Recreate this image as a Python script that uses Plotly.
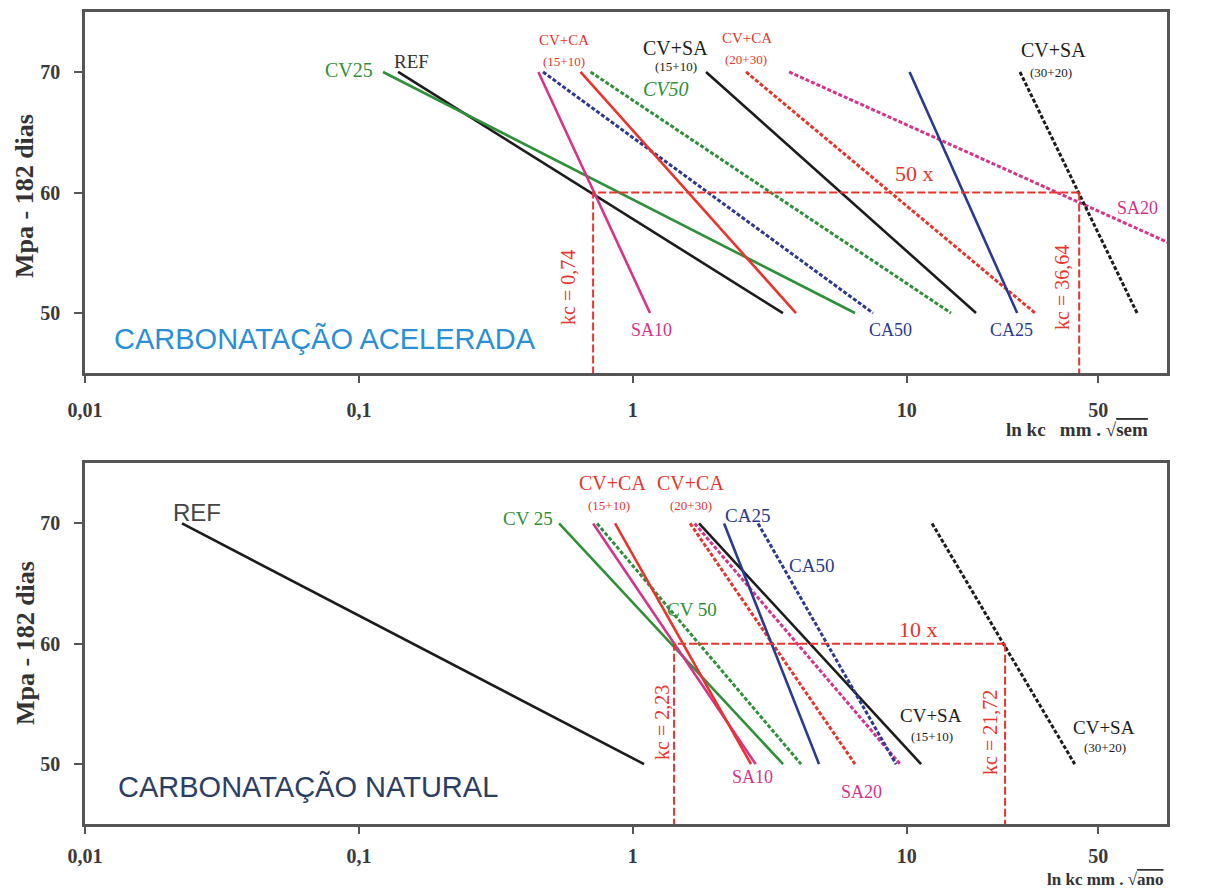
import plotly.graph_objects as go

W, H = 1211, 888

# ---------------- data ----------------
# Carbonatação acelerada (top): kc at 70 MPa and at 50 MPa
acc_names = ["REF", "CV25", "SA10", "CA50", "CV+CA (15+10)", "CV50", "CV+SA (15+10)",
             "CV+CA (20+30)", "SA20", "CA25", "CV+SA (30+20)"]
acc_kc70 = [0.139, 0.1225, 0.452, 0.470, 0.644, 0.701, 1.85, 2.59, 3.72, 10.24, 25.9]
acc_kc50 = [3.53, 6.47, 1.155, 7.53, 3.94, 14.5, 17.9, 29.4, 336.0, 25.3, 69.3]
acc_ref_kc = [0.716, 42.6]  # kc = 0,74 ; kc = 36,64 (as drawn)

# Carbonatação natural (bottom)
nat_names = ["REF", "CV 25", "SA10", "CV 50", "CV+CA (15+10)", "CV+CA (20+30)", "SA20",
             "CV+SA (15+10)", "CA25", "CA50", "CV+SA (30+20)"]
nat_kc70 = [0.0226, 0.538, 0.716, 0.740, 0.861, 1.618, 1.681, 1.745, 2.153, 2.865, 12.37]
nat_kc50 = [1.099, 3.535, 2.808, 4.113, 2.70, 6.474, 9.45, 11.28, 4.784, 9.14, 41.05]
nat_ref_kc = [1.414, 22.85]  # kc = 2,23 ; kc = 21,72 (as drawn)

mpa_levels = [70, 50]
ref_mpa = 60
x_tickvals = [0.01, 0.1, 1, 10, 50]
x_ticktext = ["0,01", "0,1", "1", "10", "50"]
y_tickvals = [50, 60, 70]

# ---------------- styles ----------------
BLACK = "#1c1c1c"
GREEN = "#2f8f3a"
RED = "#e8342c"
MAG = "#d6338a"
BLUE = "#2b3990"
DOT = "4px,2px"

acc_style = {
    "REF": (BLACK, "solid"), "CV25": (GREEN, "solid"), "SA10": (MAG, "solid"),
    "CA50": (BLUE, DOT), "CV+CA (15+10)": (RED, "solid"), "CV50": (GREEN, DOT),
    "CV+SA (15+10)": (BLACK, "solid"), "CV+CA (20+30)": (RED, DOT), "SA20": (MAG, DOT),
    "CA25": (BLUE, "solid"), "CV+SA (30+20)": (BLACK, DOT),
}
nat_style = {
    "REF": (BLACK, "solid"), "CV 25": (GREEN, "solid"), "SA10": (MAG, "solid"),
    "CV 50": (GREEN, DOT), "CV+CA (15+10)": (RED, "solid"), "CV+CA (20+30)": (RED, DOT),
    "SA20": (MAG, DOT), "CV+SA (15+10)": (BLACK, "solid"), "CA25": (BLUE, "solid"),
    "CA50": (BLUE, DOT), "CV+SA (30+20)": (BLACK, DOT),
}

fig = go.Figure()

def add_lines(names, k70, k50, style, xa, ya):
    for n, a, b in zip(names, k70, k50):
        c, d = style[n]
        fig.add_trace(go.Scatter(x=[a, b], y=mpa_levels, mode="lines", xaxis=xa, yaxis=ya,
                                 line=dict(color=c, width=2.6 if d == "solid" else 3, dash=d),
                                 showlegend=False, hoverinfo="skip", name=n))

def add_ref(kc, xa, ya):
    kl, kr = kc
    fig.add_trace(go.Scatter(x=[kr, kl, kl, None, kr, kr], y=[ref_mpa, ref_mpa, 45, None, ref_mpa, 45],
                             mode="lines", xaxis=xa, yaxis=ya,
                             line=dict(color=RED, width=2, dash="8px,3px"),
                             showlegend=False, hoverinfo="skip"))

add_lines(acc_names, acc_kc70, acc_kc50, acc_style, "x", "y")
add_ref(acc_ref_kc, "x", "y")
add_lines(nat_names, nat_kc70, nat_kc50, nat_style, "x2", "y2")
add_ref(nat_ref_kc, "x2", "y2")

# ---------------- axes ----------------
AX = "#555555"
tickfont = dict(family="Liberation Serif", size=20, color="#3a3a3a")
xdom = [85 / W, 1167 / W]
top_dom = [1 - 373.3 / H, 1 - 11.7 / H]
bot_dom = [1 - 824.3 / H, 1 - 463.3 / H]

def xax(anchor, standoff):
    return dict(type="log", range=[-2, 1.95], domain=xdom, anchor=anchor, automargin=False,
                tickvals=x_tickvals, ticktext=["<b>%s</b>" % t for t in x_ticktext],
                ticks="outside", ticklen=7, tickwidth=2, tickcolor=AX,
                showline=True, linecolor=AX, linewidth=2.5, mirror=True,
                showgrid=False, zeroline=False, tickfont=tickfont, ticklabelstandoff=standoff)

def yax(anchor, dom):
    return dict(range=[45, 75], domain=dom, anchor=anchor, automargin=False, tickvals=y_tickvals,
                ticktext=["<b>%d</b>" % v for v in y_tickvals],
                ticks="outside", ticklen=8, tickwidth=2, tickcolor=AX,
                showline=True, linecolor=AX, linewidth=2.5, mirror=True,
                showgrid=False, zeroline=False, tickfont=tickfont, ticklabelstandoff=10)

fig.update_layout(
    template="none",
    width=W, height=H, margin=dict(l=0, r=0, t=0, b=0, autoexpand=False),
    paper_bgcolor="white", plot_bgcolor="white",
    xaxis=xax("y", 10), yaxis=yax("x", top_dom),
    xaxis2=xax("y2", 5), yaxis2=yax("x2", bot_dom),
)

# ---------------- text labels (pixel positions) ----------------
SERIF = "Liberation Serif"
SANS = "Liberation Sans"

def lab(text, px, py, color, size, family=SERIF, angle=0):
    fig.add_annotation(text=text, x=px / W, y=1 - py / H, xref="paper", yref="paper",
                       showarrow=False, textangle=angle, xanchor="center", yanchor="middle",
                       font=dict(family=family, size=size, color=color))

# top chart
lab("CV25", 349, 70, GREEN, 20)
lab("REF", 411, 62, "#333", 19)
lab("CV+CA", 564, 40, RED, 15)
lab("(15+10)", 564, 61, RED, 13)
lab("CV+SA", 675, 48, BLACK, 20)
lab("(15+10)", 676, 66, BLACK, 13)
lab("CV+CA", 747, 38, RED, 15)
lab("(20+30)", 746, 59, RED, 13)
lab("<i>CV50</i>", 666, 89, GREEN, 20)
lab("CV+SA", 1053, 50, BLACK, 20)
lab("(30+20)", 1051, 72, BLACK, 13)
lab("SA20", 1137, 208, MAG, 18)
lab("50 x", 914, 173, RED, 22)
lab("SA10", 651, 330, MAG, 18)
lab("CA50", 890, 330, BLUE, 18)
lab("CA25", 1011, 330, BLUE, 18)
lab("kc = 0,74", 568, 288, RED, 20, angle=-90)
lab("kc = 36,64", 1062, 288, RED, 20, angle=-90)
lab("CARBONATAÇÃO ACELERADA", 325, 338, "#2a8fd4", 29, SANS)
lab("<b>ln kc   mm . √<span style='text-decoration:overline'>sem</span></b>", 1077, 429, "#333", 19)
lab("<b>Mpa - 182 dias</b>", 25, 196, "#333", 26, angle=-90)

# bottom chart
lab("REF", 197, 512, "#444", 24, SANS)
lab("CV 25", 528, 518, GREEN, 19)
lab("CV+CA", 612, 483, RED, 20)
lab("(15+10)", 609, 505, RED, 13)
lab("CV+CA", 690, 483, RED, 20)
lab("(20+30)", 691, 505, RED, 13)
lab("CA25", 748, 515, BLUE, 19)
lab("CA50", 811, 565, BLUE, 19)
lab("CV 50", 692, 609, GREEN, 19)
lab("10 x", 918, 629, RED, 22)
lab("CV+SA", 931, 715, BLACK, 19)
lab("(15+10)", 932, 736, BLACK, 13)
lab("CV+SA", 1104, 727, BLACK, 19)
lab("(30+20)", 1105, 747, BLACK, 13)
lab("SA10", 753, 777, MAG, 18)
lab("SA20", 862, 792, MAG, 18)
lab("kc = 2,23", 662, 723, RED, 20, angle=-90)
lab("kc = 21,72", 990, 733, RED, 20, angle=-90)
lab("CARBONATAÇÃO NATURAL", 308, 786, "#2d3e63", 29, SANS)
lab("<b>ln kc mm . √<span style='text-decoration:overline'>ano</span></b>", 1105, 879, "#333", 17)
lab("<b>Mpa - 182 dias</b>", 25, 643, "#333", 26, angle=-90)

fig.write_html("out.html")
